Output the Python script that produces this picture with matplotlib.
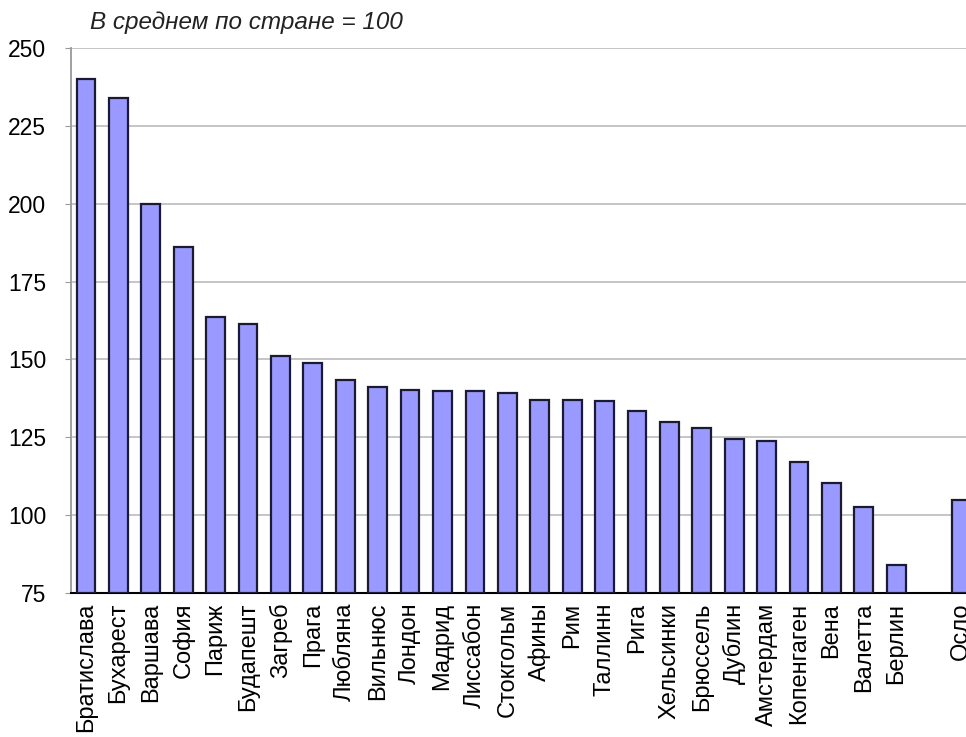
import numpy as np
import matplotlib
matplotlib.use("Agg")
import matplotlib.pyplot as plt

plt.rcParams['font.family'] = ['Liberation Sans', 'DejaVu Sans']

# data (national average = 100)
cities = ["Братислава", "Бухарест", "Варшава", "София", "Париж", "Будапешт",
          "Загреб", "Прага", "Любляна", "Вильнюс", "Лондон", "Мадрид",
          "Лиссабон", "Стокгольм", "Афины", "Рим", "Таллинн", "Рига",
          "Хельсинки", "Брюссель", "Дублин", "Амстердам", "Копенгаген",
          "Вена", "Валетта", "Берлин", "Осло"]
values = [240, 234, 200, 186, 163.5, 161.5, 151, 149, 143.5, 141, 140.2,
          139.8, 139.8, 139.3, 137.1, 137.1, 136.5, 133.3, 130, 128, 124.4,
          123.7, 117, 110.4, 102.7, 84, 105]
gap_after = "Берлин"   # Осло stands apart after an empty slot
yticks = [75, 100, 125, 150, 175, 200, 225, 250]

pos = []
k = 0
for c in cities:
    pos.append(k)
    k += 1
    if c == gap_after:
        k += 1
pos = np.array(pos)

fig = plt.figure(figsize=(9.66, 7.37), dpi=100)
ax = fig.add_axes([71/966, 1 - 593/737, 1 - 71/966, (593 - 48)/737])

ax.bar(pos, np.array(values) - 75, bottom=75, width=0.58,
       color="#9999FF", edgecolor="#1a1a33", linewidth=1.6, zorder=3)

ax.set_ylim(75, 250)
ax.set_xlim(-0.46, 27.15)
ax.set_yticks(yticks)
ax.yaxis.grid(True, color="#c0c0c0", linewidth=1.3, zorder=0)
ax.tick_params(axis="y", labelsize=16.5, length=4, color="#999999", pad=14)
ax.set_xticks(pos)
ax.set_xticklabels(cities, rotation=90, fontsize=17)
ax.tick_params(axis="x", length=0, pad=7)

for s in ["top", "right"]:
    ax.spines[s].set_visible(False)
ax.spines["left"].set_color("#999999")
ax.spines["left"].set_linewidth(1.3)
ax.spines["bottom"].set_color("black")
ax.spines["bottom"].set_linewidth(1.5)

fig.text(90/966, 1 - 22/737, "В среднем по стране = 100", fontsize=17.5,
         style="italic", va="center", ha="left", color="#222222")

plt.savefig("out.png", dpi=100)
